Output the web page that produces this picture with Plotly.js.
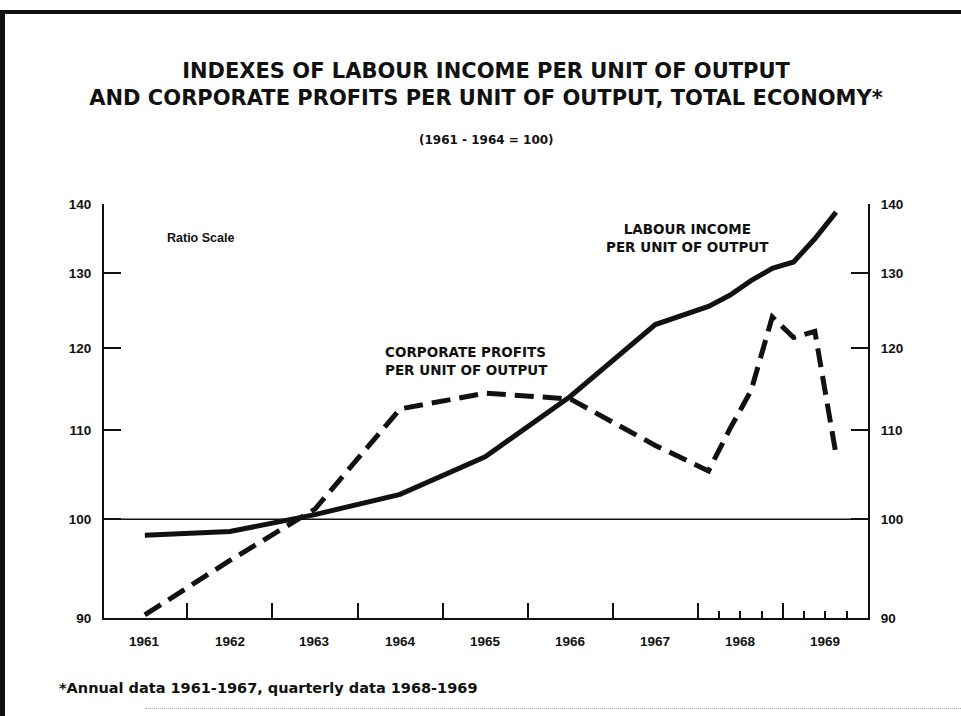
<!DOCTYPE html>
<html><head><meta charset="utf-8">
<script src="https://cdn.plot.ly/plotly-3.0.1.min.js"></script>
<style>
html,body{margin:0;padding:0;background:#fff;}
#wrap{position:relative;width:961px;height:716px;overflow:hidden;background:#fff;}
#chart{position:absolute;left:0;top:0;width:961px;height:716px;}
.frame{position:absolute;background:#111;pointer-events:none;}
</style></head><body>
<div id="wrap"><div id="chart"></div>
<div class="frame" style="left:0px;top:10px;width:5px;height:706px"></div>
<div class="frame" style="left:0px;top:10px;width:961px;height:4px"></div>
<div style="position:absolute;left:145px;top:708px;width:816px;border-top:1px dotted #aaa"></div>
</div>
<script>
// ---- data (index, 1961-1964 = 100) ----
const annualYears = [1961, 1962, 1963, 1964, 1965, 1966, 1967];
const labourAnnual = [98.3, 98.7, 100.5, 102.7, 106.9, 114.0, 123.1];
const profitsAnnual = [90.3, 95.7, 101.1, 112.5, 114.4, 113.7, 108.2];

const quarterLabels = ["1968 Q1", "1968 Q2", "1968 Q3", "1968 Q4", "1969 Q1", "1969 Q2", "1969 Q3"];
const labourQuarterly = [125.5, 127.0, 129.0, 130.7, 131.6, 134.9, 138.8];
const profitsQuarterly = [105.3, 110.1, 114.7, 124.1, 121.4, 122.2, 107.1];

const yearLabels = ["1961", "1962", "1963", "1964", "1965", "1966", "1967", "1968", "1969"];
const yTickValues = [90, 100, 110, 120, 130, 140];
const baseIndex = 100;

// ---- derived positions on a continuous year axis ----
const annualX = annualYears.map(y => y + 0.5);
const quarterX = quarterLabels.map(s => {
  const [y, q] = s.split(" Q").map(Number);
  return y + (q - 0.5) / 4;
});
const firstYear = Number(yearLabels[0]);
const lastYear = Number(yearLabels[yearLabels.length - 1]);
const yearBoundaries = yearLabels.slice(1).map(Number);
const quarterTicks = [];
for (const y of [1968, 1969]) for (const q of [1, 2, 3]) quarterTicks.push(y + q / 4);

const xs = annualX.concat(quarterX);
const labour = labourAnnual.concat(labourQuarterly);
const profits = profitsAnnual.concat(profitsQuarterly);

const INK = '#111';
const tickFont = {family: 'Liberation Sans, Arial, sans-serif', size: 13.5, color: INK, weight: 'bold'};
const labelFont = {family: 'DejaVu Sans, sans-serif', size: 13.5, color: INK, weight: 'bold'};

const traces = [
  {x: xs, y: labour, name: 'Labour income per unit of output', type: 'scatter', mode: 'lines',
   line: {color: INK, width: 5}, xaxis: 'x', yaxis: 'y', hoverinfo: 'skip'},
  {x: xs, y: profits, name: 'Corporate profits per unit of output', type: 'scatter', mode: 'lines',
   line: {color: INK, width: 5, dash: '19px,9px'}, xaxis: 'x', yaxis: 'y2', hoverinfo: 'skip'}
];

const yRange = [Math.log10(90), Math.log10(140)];
function yAxis(side) {
  return {
    type: 'log', range: yRange, side: side,
    showline: true, linewidth: 2, linecolor: INK, mirror: false,
    tickmode: 'array', tickvals: yTickValues, ticktext: yTickValues.map(String),
    ticks: 'inside', ticklen: 17, tickwidth: 2, tickcolor: INK,
    tickfont: tickFont, ticklabelstandoff: 8,
    showgrid: false, zeroline: false, fixedrange: true,
    minor: {tickmode: 'array', tickvals: [140], ticks: 'inside', ticklen: 35, tickwidth: 2, tickcolor: INK, showgrid: false}
  };
}

const annotations = [];
yearLabels.forEach(lbl => {
  annotations.push({xref: 'x', yref: 'paper', x: Number(lbl) + 0.5, y: 0, yanchor: 'middle', yshift: -23,
    text: lbl, showarrow: false, font: tickFont});
});
annotations.push(
  {xref: 'paper', yref: 'paper', x: 0.5, y: 1.1546, xanchor: 'center', yanchor: 'middle',
   text: '(1961 - 1964 = 100)', showarrow: false, font: {family: 'DejaVu Sans, sans-serif', size: 12, color: INK, weight: 'bold'}},
  {xref: 'paper', yref: 'paper', x: 0.0798, y: 0.9179, xanchor: 'left', yanchor: 'middle',
   text: 'Ratio Scale', showarrow: false, font: {family: 'Liberation Sans, Arial, sans-serif', size: 12.5, color: INK, weight: 'bold'}},
  {xref: 'paper', yref: 'paper', x: 0.3652, y: 0.6208, xanchor: 'left', yanchor: 'middle', align: 'left',
   text: 'CORPORATE PROFITS<br>PER UNIT OF OUTPUT', showarrow: false, font: labelFont},
  {xref: 'paper', yref: 'paper', x: 0.7631, y: 0.9179, xanchor: 'center', yanchor: 'middle', align: 'center',
   text: 'LABOUR INCOME<br>PER UNIT OF OUTPUT', showarrow: false, font: labelFont},
  {xref: 'paper', yref: 'paper', x: -0.0615, y: -0.169, xanchor: 'left', yanchor: 'middle',
   text: '*Annual data 1961-1967, quarterly data 1968-1969', showarrow: false,
   font: {family: 'DejaVu Sans, sans-serif', size: 14.5, color: INK, weight: 'bold'}}
);

const layout = {
  width: 961, height: 716,
  margin: {l: 104, r: 93, t: 204, b: 98, pad: 0},
  paper_bgcolor: 'rgba(0,0,0,0)', plot_bgcolor: 'rgba(0,0,0,0)',
  showlegend: false,
  title: {
    text: 'INDEXES OF LABOUR INCOME PER UNIT OF OUTPUT<br>AND CORPORATE PROFITS PER UNIT OF OUTPUT, TOTAL ECONOMY*',
    font: {family: 'DejaVu Sans, sans-serif', size: 21, color: INK, weight: 'bold'},
    xref: 'paper', x: 0.5, xanchor: 'center', yref: 'container', y: 1 - 78 / 716, yanchor: 'middle'
  },
  xaxis: {
    range: [firstYear + 0.02, lastYear + 1], showline: true, linewidth: 2, linecolor: INK,
    tickmode: 'array', tickvals: yearBoundaries, ticks: 'inside', ticklen: 15, tickwidth: 2, tickcolor: INK,
    showticklabels: false, showgrid: false, zeroline: false, fixedrange: true,
    minor: {tickmode: 'array', tickvals: quarterTicks, ticks: 'inside', ticklen: 7, tickwidth: 2, tickcolor: INK, showgrid: false}
  },
  yaxis: yAxis('left'),
  yaxis2: Object.assign(yAxis('right'), {overlaying: 'y', anchor: 'x'}),
  shapes: [
    {type: 'line', xref: 'paper', x0: 0, x1: 1, yref: 'y', y0: baseIndex, y1: baseIndex,
     line: {color: INK, width: 1.5}, layer: 'below'}
  ],
  annotations: annotations
};

Plotly.newPlot('chart', traces, layout, {staticPlot: true, displayModeBar: false});
</script>
</body></html>
